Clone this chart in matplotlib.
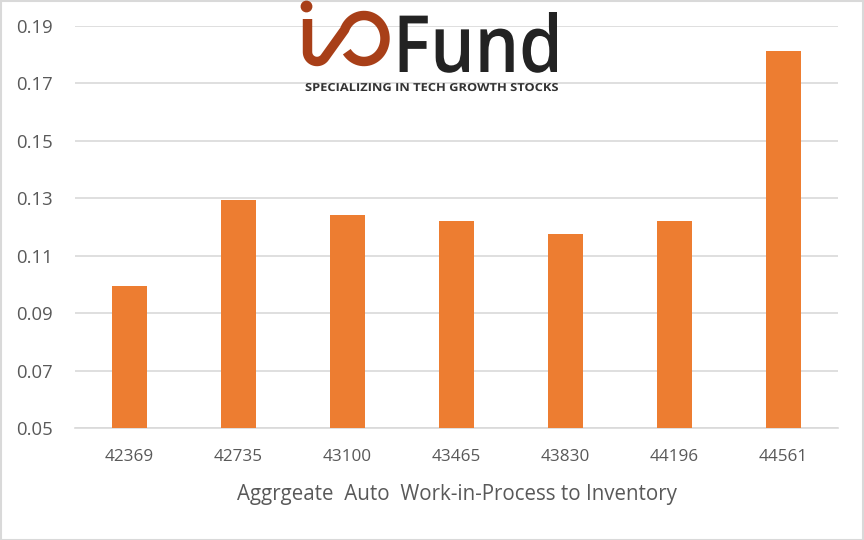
import numpy as np
import matplotlib
matplotlib.use("Agg")
import matplotlib.pyplot as plt
from matplotlib.patches import Rectangle, PathPatch
from matplotlib.textpath import TextPath
from matplotlib.font_manager import FontProperties
from matplotlib.transforms import Affine2D

categories = ["42369", "42735", "43100", "43465", "43830", "44196", "44561"]
values = [0.0995, 0.1294, 0.1242, 0.1221, 0.1176, 0.1221, 0.1813]
yticks = [0.05, 0.07, 0.09, 0.11, 0.13, 0.15, 0.17, 0.19]
xlabel = "Aggrgeate  Auto  Work-in-Process to Inventory"
logo_word = "Fund"
tagline = "SPECIALIZING IN TECH GROWTH STOCKS"

fam = "Open Sans"
W, H = 864, 540
fig = plt.figure(figsize=(W / 100, H / 100), dpi=100)
ax = fig.add_axes([75 / W, 1 - 428 / H, (838 - 75) / W, (428 - 26) / H])

x = list(range(len(categories)))
ax.bar(x, values, width=0.32, color="#ED7D31", zorder=3)
ax.set_xlim(-0.5, len(categories) - 0.5)
ax.set_ylim(0.05, 0.19)
ax.set_yticks(yticks)
ax.set_yticklabels([f"{v:.2f}" for v in yticks])
ax.set_xticks(x)
ax.set_xticklabels(categories)
ax.grid(axis="y", color="#D9D9D9", linewidth=1.2, zorder=0)
for s in ["top", "right", "left"]:
    ax.spines[s].set_visible(False)
ax.spines["bottom"].set_color("#D9D9D9")
ax.spines["bottom"].set_linewidth(1.2)
ax.tick_params(axis="both", length=0, labelcolor="#595959")
ax.tick_params(axis="x", labelsize=12.3, pad=15)
ax.tick_params(axis="y", labelsize=13.3, pad=16)
for lab in ax.get_xticklabels() + ax.get_yticklabels():
    lab.set_family(fam)
ax.set_xlabel(xlabel, fontsize=14.8, color="#595959", family=fam, labelpad=14)

# logo overlay in pixel coords (y down)
ov = fig.add_axes([0, 0, 1, 1], zorder=5)
ov.set_xlim(0, W)
ov.set_ylim(H, 0)
ov.axis("off")
ov.patch.set_alpha(0)


def fit_text(s, x0, x1, ytop, ybase, color, weight="normal", family="Open Sans"):
    tp = TextPath((0, 0), s, size=1, prop=FontProperties(family=family, weight=weight))
    v = tp.vertices
    bx0, bx1 = v[:, 0].min(), v[:, 0].max()
    by1 = v[:, 1].max()
    sx = (x1 - x0) / (bx1 - bx0)
    sy = (ybase - ytop) / by1
    tr = Affine2D().translate(-bx0, 0).scale(sx, -sy).translate(x0, ybase)
    ov.add_patch(PathPatch(tr.transform_path(tp), facecolor=color, edgecolor="none"))


io_col = "#A83F18"
# "i" dot
ov.add_patch(plt.Circle((306.5, 6.5), 5.2, color=io_col))
# stroke: stem, bottom curve, diagonal, loop
stem_y = np.linspace(19, 52, 10)
stem = np.column_stack([np.full_like(stem_y, 307.5), stem_y])
t1 = np.radians(np.linspace(180, 325, 20))
bot = np.column_stack([317 + 9.5 * np.cos(t1), 52 - 9.5 * np.sin(t1)])
t2 = np.radians(np.linspace(158, -145, 60))
loop = np.column_stack([364 + 21 * np.cos(t2), 38.5 - 23 * np.sin(t2)])
pts = np.vstack([stem, bot, loop])
ov.plot(pts[:, 0], pts[:, 1], color=io_col, linewidth=6.8, solid_capstyle="butt",
        solid_joinstyle="round")

fit_text(logo_word, 393, 557, 12, 72, "#232323", weight="semibold")
fit_text(tagline, 305, 558, 83, 91, "#333333", weight="bold")

fig.patches.append(Rectangle((0.5 / W, 0.5 / H), 1 - 1.5 / W, 1 - 1.5 / H, transform=fig.transFigure,
                             fill=False, edgecolor="#D9D9D9", linewidth=1.5))
fig.savefig("out.png", dpi=100)
